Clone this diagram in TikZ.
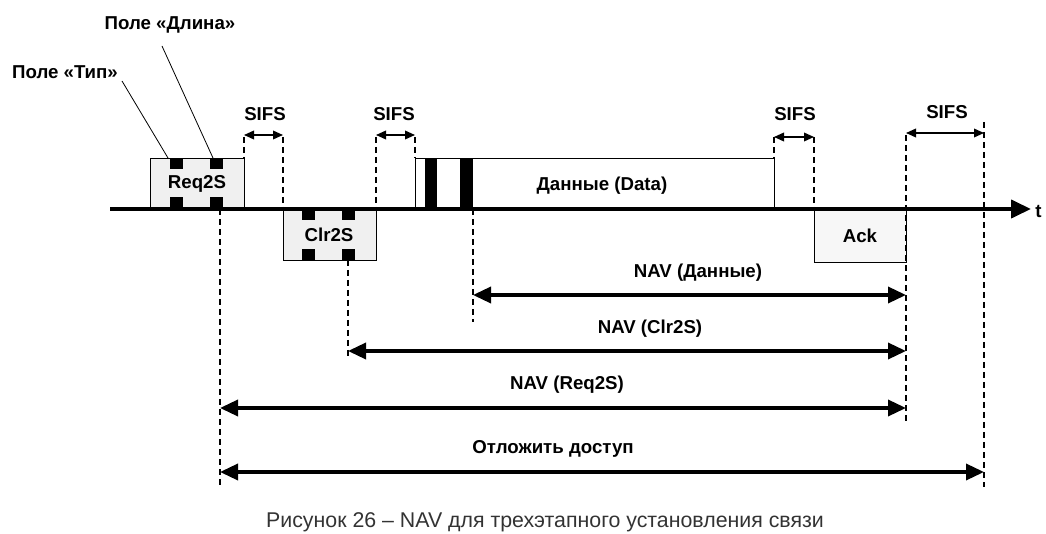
\documentclass[tikz,border=0pt]{standalone}
\usepackage{fontspec}
\setmainfont{Liberation Sans}
\usetikzlibrary{arrows.meta}
\begin{document}
\begin{tikzpicture}[x=0.75pt,y=-0.75pt,
  lbl/.style={font=\bfseries\fontsize{14}{16}\selectfont, inner sep=0pt},
  frame/.style={draw, line width=1.1pt, inner sep=0pt, anchor=north west},
  dsh/.style={line width=1pt, dash pattern=on 4.5pt off 3pt},
  lead/.style={line width=0.6pt},
  nav/.style={line width=2.6pt, {Triangle[length=13.5pt,width=12pt]}-{Triangle[length=13.5pt,width=12pt]}},
  sifs/.style={line width=1.1pt, {Triangle[length=7.5pt,width=6.5pt]}-{Triangle[length=7.5pt,width=6.5pt]}}]
\useasboundingbox (0,0) rectangle (1046,534);

% frames
\node[frame, fill=gray!12, minimum width=70.5pt, minimum height=38.25pt] (req) at (150,158) {};
\node[frame, fill=gray!12, minimum width=69.75pt, minimum height=38.25pt] (clr) at (283,209) {};
\node[frame, fill=white, minimum width=269.25pt, minimum height=38.25pt] (data) at (415,158) {};
\node[frame, fill=gray!6, minimum width=69pt, minimum height=39.75pt] (ack) at (814,209) {};

% field marks
\fill (170,158) rectangle (183,169);
\fill (210,158) rectangle (223,169);
\fill (170,197) rectangle (183,209);
\fill (210,197) rectangle (223,209);
\fill (302,209) rectangle (315,220);
\fill (342,209) rectangle (355,220);
\fill (302,249) rectangle (315,260);
\fill (342,249) rectangle (355,260);
\fill (425,158) rectangle (437,209);
\fill (460,158) rectangle (473,209);

% frame texts
\node[lbl] (reqt) at (197,184) {Req2S};
\node[lbl] (clrt) at (329,235) {Clr2S};
\node[lbl] (datat) at (602,186) {Данные (Data)};
\node[lbl] (ackt) at (860,236) {Ack};

% time axis
\coordinate (a0) at (110,209);
\coordinate (a1) at (1031,209);
\draw[line width=3pt, -{Triangle[length=15pt,width=13.5pt]}] (a0) -- (a1);
\node[font=\bfseries\fontsize{14}{16}\selectfont, anchor=west, inner sep=0pt] (t) at (1035,211) {t};

% field labels
\node[lbl] (typ) at (65,72) {Поле «Тип»};
\node[lbl] (len) at (170,25) {Поле «Длина»};
\coordinate (typa) at (122,81);
\coordinate (typb) at (168,158);
\coordinate (lena) at (162,46);
\coordinate (lenb) at (213,158);
\draw[lead] (typa) -- (typb);
\draw[lead] (lena) -- (lenb);

% dashed markers
\coordinate (d1a) at (244,137);   \coordinate (d1b) at (244,158);
\coordinate (d2a) at (283,137);   \coordinate (d2b) at (283,209);
\coordinate (d3a) at (376,137);   \coordinate (d3b) at (376,209);
\coordinate (d4a) at (415,137);   \coordinate (d4b) at (415,158);
\coordinate (d5a) at (774,137);   \coordinate (d5b) at (774,158);
\coordinate (d6a) at (814,137);   \coordinate (d6b) at (814,209);
\coordinate (d7a) at (906,135);   \coordinate (d7b) at (906,423);
\coordinate (d8a) at (984,122);   \coordinate (d8b) at (984,487);
\coordinate (r1a) at (220,209);   \coordinate (r1b) at (220,487);
\coordinate (c1a) at (348,260);   \coordinate (c1b) at (348,357);
\coordinate (e1a) at (473,209);   \coordinate (e1b) at (473,322);
\foreach \p in {d1,d2,d3,d4,d5,d6,d7,d8,r1,c1,e1}
  \draw[dsh] (\p a) -- (\p b);

% SIFS
\node[lbl] (s1) at (265,114) {SIFS};
\node[lbl] (s2) at (394,114) {SIFS};
\node[lbl] (s3) at (795,114) {SIFS};
\node[lbl] (s4) at (947,112) {SIFS};
\coordinate (s1a) at (244,135); \coordinate (s1b) at (283,135);
\coordinate (s2a) at (376,135); \coordinate (s2b) at (415,135);
\coordinate (s3a) at (774,137); \coordinate (s3b) at (814,137);
\coordinate (s4a) at (906,133); \coordinate (s4b) at (984,133);
\foreach \p in {s1,s2,s3,s4}
  \draw[sifs] (\p a) -- (\p b);

% NAV
\node[lbl] (n1) at (698,273) {NAV (Данные)};
\node[lbl] (n2) at (650,329) {NAV (Clr2S)};
\node[lbl] (n3) at (567,385) {NAV (Req2S)};
\node[lbl] (n4) at (553,449) {Отложить доступ};
\coordinate (n1a) at (473,295); \coordinate (n1b) at (906,295);
\coordinate (n2a) at (348,351); \coordinate (n2b) at (906,351);
\coordinate (n3a) at (220,408); \coordinate (n3b) at (906,408);
\coordinate (n4a) at (220,472); \coordinate (n4b) at (984,472);
\foreach \p in {n1,n2,n3,n4}
  \draw[nav] (\p a) -- (\p b);

% caption
\node[font=\fontsize{16}{18}\selectfont, text=black!80, inner sep=0pt] (cap) at (545,522) {Рисунок 26 – NAV для трехэтапного установления связи};
\end{tikzpicture}
\end{document}
